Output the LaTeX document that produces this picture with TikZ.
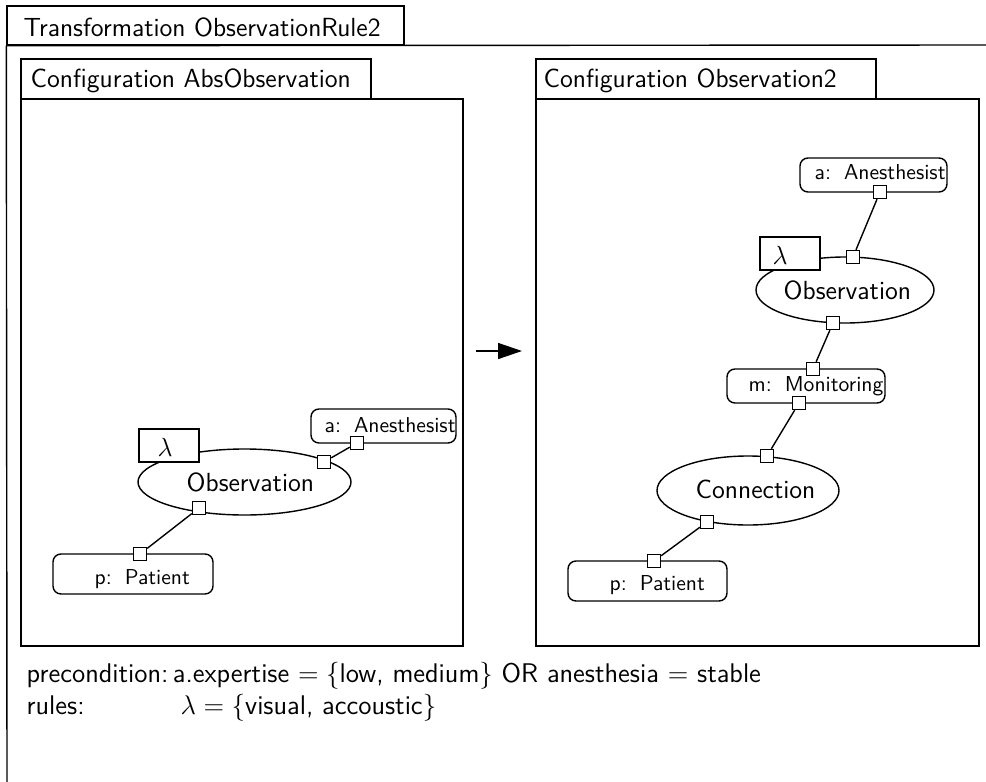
\documentclass[tikz,border=0pt]{standalone}
\usepackage{fix-cm}
\usetikzlibrary{shapes.geometric,arrows.meta}
\begin{document}
\begin{tikzpicture}[x=0.5pt,y=-0.5pt,line width=0.7pt,
  big/.style={font=\fontsize{13.1}{15}\selectfont\sffamily, inner sep=0pt},
  cond/.style={font=\fontsize{13.5}{15}\selectfont\sffamily, inner sep=0pt},
  small/.style={font=\fontsize{10.8}{12}\selectfont\sffamily, inner sep=0pt},
  frame/.style={draw, inner sep=0pt},
  role/.style={draw, rounded corners=4pt, inner sep=0pt, fill=white},
  act/.style={draw, ellipse, inner sep=0pt, fill=white},
  lam/.style={draw, fill=white, inner sep=0pt, minimum width=30pt, minimum height=16.5pt},
  port/.style={draw, fill=white, inner sep=0pt, minimum size=6.5pt},
  link/.style={draw}
]
\useasboundingbox (0,0) rectangle (986,782);

% outer transformation frame
\node[frame, minimum width=198.5pt, minimum height=19.5pt] (ttab) at (205.5,25.5) {};
\coordinate (fbot) at (7,782);
\coordinate (fright) at (986,45);
\draw (ttab.south west) -- (fbot);
\draw (ttab.south west) -- (fright);
\node[big, anchor=base west] (ttl) at (23,36) {Transformation ObservationRule2};

% left configuration
\node[frame, minimum width=175pt, minimum height=20pt] (ltab) at (196,79) {};
\node[frame, minimum width=221pt, minimum height=273.5pt] (lbox) at (242,372.5) {};
\node[big, anchor=base west] (ltitle) at (30,87) {Configuration AbsObservation};

% right configuration
\node[frame, minimum width=170pt, minimum height=20pt] (rtab) at (706,79) {};
\node[frame, minimum width=221.5pt, minimum height=273.5pt] (rbox) at (757.5,372.5) {};
\node[big, anchor=base west] (rtitle) at (543,87) {Configuration Observation2};

% transformation arrow
\coordinate (arrA) at (476,351);
\coordinate (arrB) at (522,351);
\draw[-{Triangle[length=12pt,width=8pt]}] (arrA) -- (arrB);

% ---- left graph ----
\node[act, minimum width=106.5pt, minimum height=33pt] (obsL) at (244.5,482) {};
\node[big, anchor=base west] (obsLt) at (186,491) {Observation};
\node[lam] (lamL) at (169,445.5) {};
\node[big, anchor=base] (lamLt) at (165,456) {$\lambda$};
\node[role, minimum width=72.5pt, minimum height=17pt] (anL) at (383.5,426) {};
\node[small, anchor=base west] (anLt) at (324,432) {a:\hspace{0.6em}Anesthesist};
\node[role, minimum width=80pt, minimum height=20pt] (patL) at (133,574) {};
\node[small, anchor=base west] (patLt) at (94,584) {p:\hspace{0.6em}Patient};

\node[port] (pL1) at (357,443) {};
\node[port] (pL2) at (324,462) {};
\node[port] (pL3) at (199,508) {};
\node[port] (pL4) at (140,554) {};
\draw[link] (pL1) -- (pL2);
\draw[link] (pL3) -- (pL4);

% ---- right graph ----
\node[role, minimum width=73.5pt, minimum height=17pt] (anR) at (873.5,175) {};
\node[small, anchor=base west] (anRt) at (814,179) {a:\hspace{0.6em}Anesthesist};
\node[act, minimum width=89pt, minimum height=33pt] (obsR) at (845,290) {};
\node[big, anchor=base west] (obsRt) at (783,299) {Observation};
\node[lam] (lamR) at (790,253.5) {};
\node[big, anchor=base] (lamRt) at (780,264) {$\lambda$};
\node[role, minimum width=79pt, minimum height=17pt] (monR) at (806,386) {};
\node[small, anchor=base west] (monRt) at (748,391) {m:\hspace{0.6em}Monitoring};
\node[act, minimum width=91pt, minimum height=34.5pt] (conR) at (748,490.5) {};
\node[big, anchor=base west] (conRt) at (695,498) {Connection};
\node[role, minimum width=79.5pt, minimum height=20pt] (patR) at (647.5,581) {};
\node[small, anchor=base west] (patRt) at (609,590) {p:\hspace{0.6em}Patient};

\node[port] (pR1) at (880,192) {};
\node[port] (pR2) at (853,257) {};
\node[port] (pR3) at (833,323) {};
\node[port] (pR4) at (813,369) {};
\node[port] (pR5) at (799,403) {};
\node[port] (pR6) at (767,456) {};
\node[port] (pR7) at (707,522) {};
\node[port] (pR8) at (654,561) {};
\draw[link] (pR1) -- (pR2);
\draw[link] (pR3) -- (pR4);
\draw[link] (pR5) -- (pR6);
\draw[link] (pR7) -- (pR8);

% ---- conditions ----
\node[cond, anchor=base west] (pre) at (26,682) {precondition:};
\node[cond, anchor=base west, xshift=1.5pt] (preval) at (pre.base east) {a.expertise $= \{$low, medium$\}$ OR anesthesia $=$ stable};
\node[cond, anchor=base west] (rul) at (26,714) {rules:};
\node[cond, anchor=base west] (rulval) at (180,714) {$\lambda = \{$visual, accoustic$\}$};
\end{tikzpicture}
\end{document}
